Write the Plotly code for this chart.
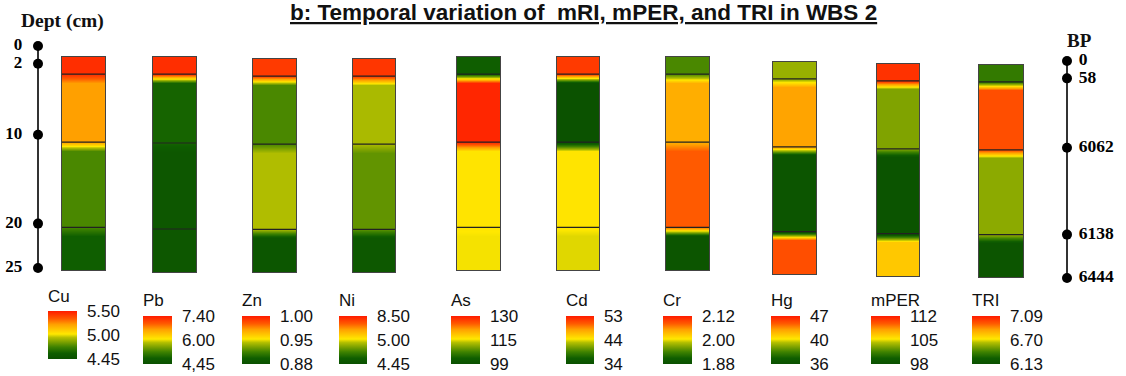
import plotly.graph_objects as go

W, H = 1126, 376

# ---------------- data ----------------
elements = ["Cu", "Pb", "Zn", "Ni", "As", "Cd", "Cr", "Hg", "mPER", "TRI"]
# colour-bar labels (top, middle, bottom)
cbar_labels = [
    ["5.50", "5.00", "4.45"],
    ["7.40", "6.00", "4,45"],
    ["1.00", "0.95", "0.88"],
    ["8.50", "5.00", "4.45"],
    ["130", "115", "99"],
    ["53", "44", "34"],
    ["2.12", "2.00", "1.88"],
    ["47", "40", "36"],
    ["112", "105", "98"],
    ["7.09", "6.70", "6.13"],
]
# relative level (0 = bottom of colour bar, 1 = top) of each depth layer
# layers: 0-2 cm, 2-10 cm, 10-20 cm, 20-25 cm
cu_levels = [0.95, 0.72, 0.27, 0.12]
pb_levels = [0.95, 0.14, 0.06, 0.06]
zn_levels = [0.92, 0.27, 0.44, 0.05]
ni_levels = [0.93, 0.43, 0.31, 0.07]
as_levels = [0.12, 0.97, 0.53, 0.51]
cd_levels = [0.92, 0.02, 0.53, 0.49]
cr_levels = [0.27, 0.68, 0.84, 0.04]
hg_levels = [0.40, 0.71, 0.04, 0.87]
mper_levels = [0.94, 0.36, 0.03, 0.61]
tri_levels = [0.22, 0.87, 0.38, 0.04]
levels = [cu_levels, pb_levels, zn_levels, ni_levels, as_levels,
          cd_levels, cr_levels, hg_levels, mper_levels, tri_levels]

depth_bounds = [0, 2, 10, 20, 25]          # cm
depth_labels = ["0", "2", "10", "20", "25"]
bp_labels = ["0", "58", "6062", "6138", "6444"]

# ---------------- style / layout ----------------
colorscale = [
    [0.00, "#0a5000"], [0.12, "#0f5e00"], [0.25, "#3e8200"],
    [0.35, "#7aa000"], [0.45, "#b6c000"], [0.52, "#ffe800"],
    [0.62, "#ffc400"], [0.72, "#ffa000"], [0.84, "#ff5a00"],
    [1.00, "#ff1a00"],
]
trans = 1.0  # smoothing thickness below each layer boundary (cm)

col_x = [(62, 105), (153, 196), (253, 296), (353, 395), (457, 500),
         (557, 599), (666, 709), (773, 816), (877, 919), (979, 1023)]
col_y = [(57, 270), (57, 272), (59, 272), (59, 272), (57, 270),
         (57, 270), (57, 270), (62, 274), (64, 276), (65, 277)]
cb_x = [(48, 77), (143, 172), (242, 270), (339, 367), (451, 480),
        (566, 594), (663, 692), (771, 800), (871, 900), (972, 1000)]
cb_y = [(311, 359)] + [(316, 364)] * 9
cb_title_y = [296] + [300] * 9


def px(x):
    return x / W


def py(y):
    return 1 - y / H


fig = go.Figure()
layout = dict(
    width=W, height=H, margin=dict(l=0, r=0, t=0, b=0),
    paper_bgcolor="white", plot_bgcolor="white", showlegend=False,
)
shapes = []
annotations = []

for i, (name, lv) in enumerate(zip(elements, levels)):
    k = i + 1
    xs = "" if k == 1 else str(k)
    # sample profile: constant per layer, short blend below each boundary
    ys, zs = [], []
    for j in range(4):
        a, b = depth_bounds[j], depth_bounds[j + 1]
        top = a if j == 0 else a + trans
        ys += [top, b]
        zs += [lv[j], lv[j]]
    z = [[v, v] for v in zs]
    fig.add_trace(go.Heatmap(
        x=[0, 1], y=ys, z=z, zmin=0, zmax=1, zsmooth="best",
        colorscale=colorscale, xaxis="x" + xs, yaxis="y" + xs,
        hoverinfo="skip",
        colorbar=dict(
            x=px(cb_x[i][0]), xanchor="left", xpad=0,
            y=py(cb_y[i][0]), yanchor="top", ypad=0,
            len=cb_y[i][1] - cb_y[i][0], lenmode="pixels",
            thickness=cb_x[i][1] - cb_x[i][0], thicknessmode="pixels",
            outlinewidth=0,
            tickvals=[0.999, 0.5, 0.001], ticktext=cbar_labels[i],
            ticks="outside", ticklen=7, tickcolor="rgba(0,0,0,0)",
            tickfont=dict(family="Liberation Sans, Arial", size=17, color="#111"),
        ),
    ))
    layout["xaxis" + xs] = dict(
        domain=[px(col_x[i][0]), px(col_x[i][1])], range=[-0.5, 1.5],
        showticklabels=False, ticks="", showgrid=False, zeroline=False,
        showline=True, mirror=True, linecolor="#444", linewidth=1,
        anchor="y" + xs, fixedrange=True,
    )
    layout["yaxis" + xs] = dict(
        domain=[py(col_y[i][1]), py(col_y[i][0])], range=[25, 0],
        showticklabels=False, ticks="", showgrid=False, zeroline=False,
        showline=True, mirror=True, linecolor="#444", linewidth=1,
        anchor="x" + xs, fixedrange=True,
    )
    for b in depth_bounds[1:-1]:
        shapes.append(dict(
            type="line", xref="x" + xs + " domain", yref="y" + xs,
            x0=0, x1=1, y0=b, y1=b, line=dict(color="#222", width=1.2),
        ))
    annotations.append(dict(
        text=name, x=px(cb_x[i][0] - 2), y=py(cb_title_y[i]),
        xref="paper", yref="paper", xanchor="left", yanchor="middle",
        showarrow=False,
        font=dict(family="Liberation Sans, Arial", size=17, color="#111"),
    ))

# depth axis (left)
fig.add_trace(go.Scatter(
    x=[0] * len(depth_bounds), y=depth_bounds, text=depth_labels,
    mode="lines+markers+text", textposition="middle left",
    line=dict(color="#333", width=2), marker=dict(color="black", size=10),
    textfont=dict(family="Liberation Serif", size=17, color="black"),
    texttemplate="<b>%{text}</b>&nbsp;&nbsp;",
    cliponaxis=False, xaxis="x11", yaxis="y11", hoverinfo="skip",
))
layout["xaxis11"] = dict(domain=[px(29), px(47)], range=[-1, 1], visible=False,
                         anchor="y11", fixedrange=True)
layout["yaxis11"] = dict(domain=[py(268), py(46)], range=[25, 0], visible=False,
                         anchor="x11", fixedrange=True)

# BP axis (right)
fig.add_trace(go.Scatter(
    x=[0] * len(depth_bounds), y=depth_bounds, text=bp_labels,
    mode="lines+markers+text", textposition="middle right",
    line=dict(color="#333", width=2), marker=dict(color="black", size=10),
    textfont=dict(family="Liberation Serif", size=17.5, color="black"),
    texttemplate="&nbsp;<b>%{text}</b>",
    cliponaxis=False, xaxis="x12", yaxis="y12", hoverinfo="skip",
))
layout["xaxis12"] = dict(domain=[px(1058), px(1076)], range=[-1, 1], visible=False,
                         anchor="y12", fixedrange=True)
layout["yaxis12"] = dict(domain=[py(278), py(61)], range=[25, 0], visible=False,
                         anchor="x12", fixedrange=True)

annotations += [
    dict(text="<b><u>b: Temporal variation of  mRI, mPER, and TRI in WBS 2</u></b>",
         x=px(583), y=py(13), xref="paper", yref="paper",
         xanchor="center", yanchor="middle", showarrow=False,
         font=dict(family="Liberation Sans, Arial", size=22.5, color="#111")),
    dict(text="<b>Dept (cm)</b>", x=px(19), y=py(21), xref="paper", yref="paper",
         xanchor="left", yanchor="middle", showarrow=False,
         font=dict(family="Liberation Serif", size=19.5, color="#111")),
    dict(text="<b>BP</b>", x=px(1065), y=py(40), xref="paper", yref="paper",
         xanchor="left", yanchor="middle", showarrow=False,
         font=dict(family="Liberation Serif", size=19, color="#111")),
]

layout["shapes"] = shapes
layout["annotations"] = annotations
fig.update_layout(**layout)
fig.write_html("out.html")
